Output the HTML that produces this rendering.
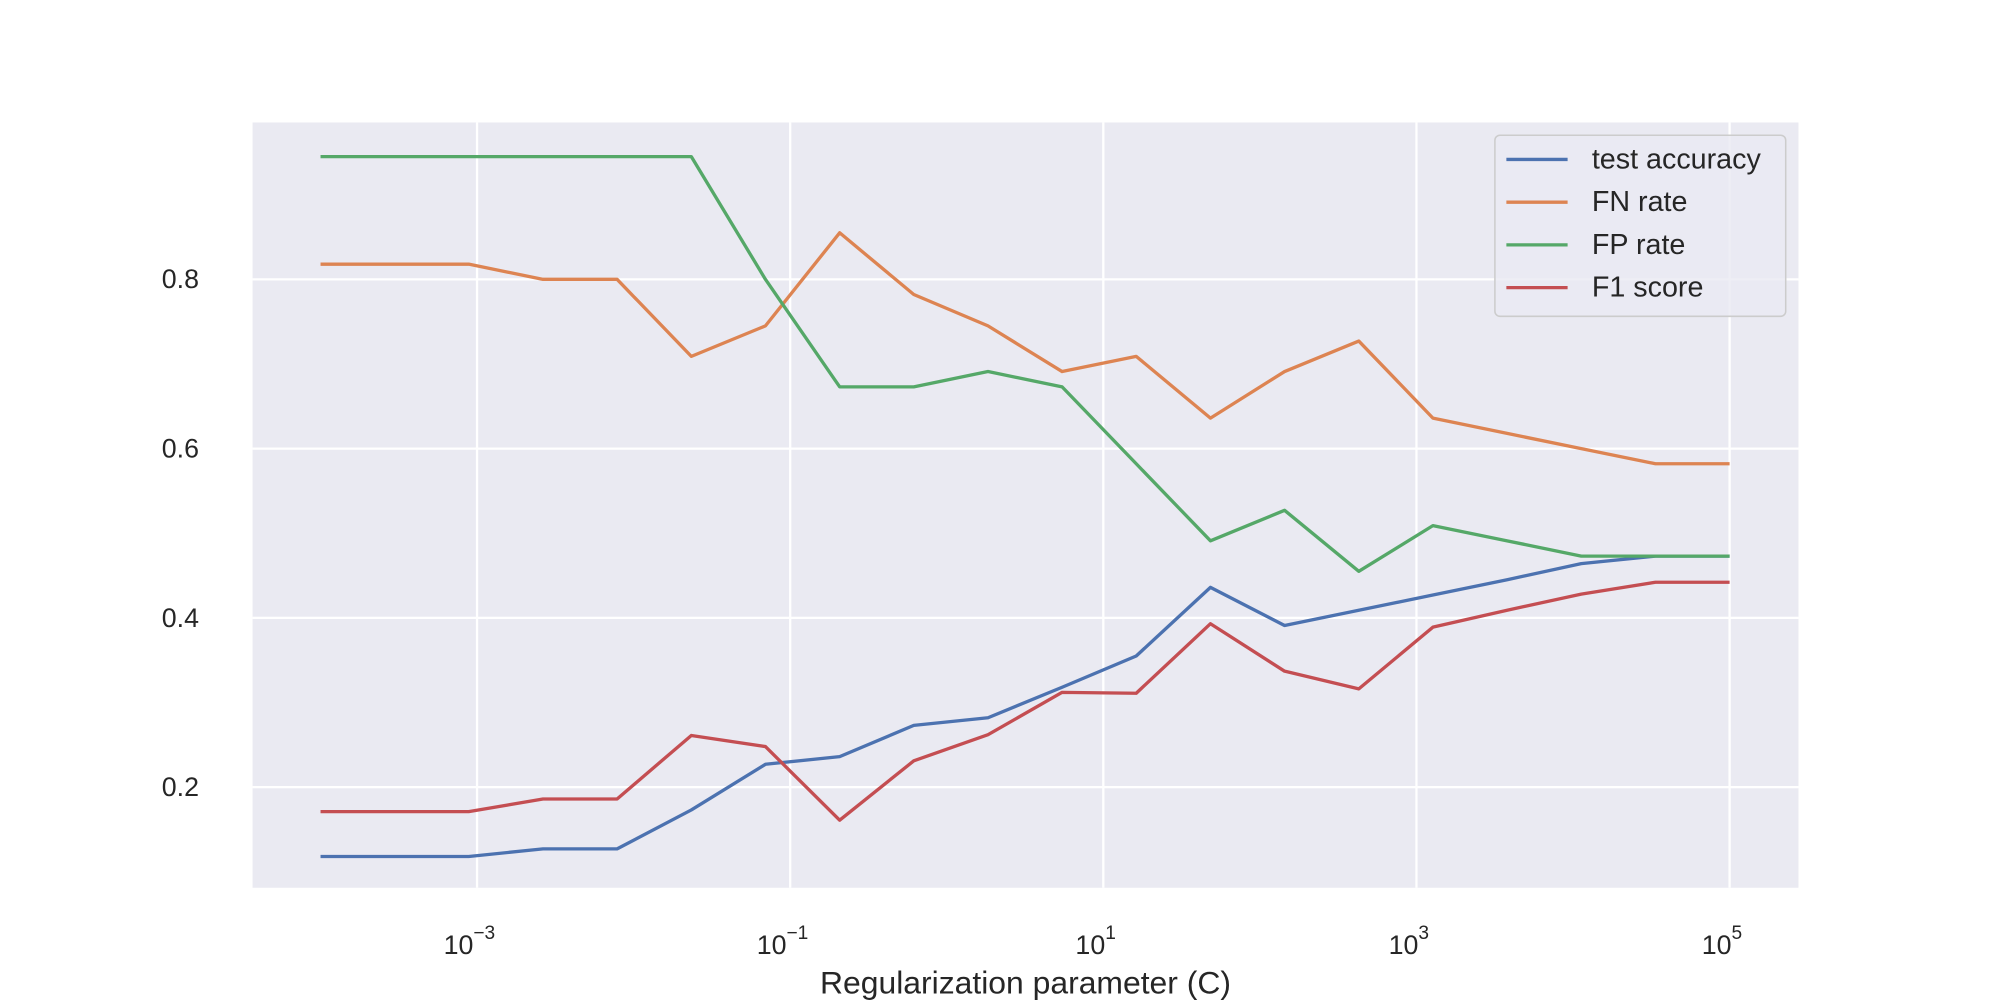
<!DOCTYPE html>
<html><head><meta charset="utf-8"><style>
html,body{margin:0;padding:0;background:#fff;}
svg{display:block;font-family:"Liberation Sans","DejaVu Sans",sans-serif;}
</style></head><body>
<svg id="chart" width="2000" height="1000" viewBox="0 0 1568 784" xmlns="http://www.w3.org/2000/svg">
<rect x="198" y="96" width="1212" height="600" fill="#eaeaf2"/>
<g id="grid"></g>
<g id="series"></g>
<g id="ticks"></g>
<text x="804" y="779" font-size="25" text-anchor="middle" fill="#262626">Regularization parameter (C)</text>
<g id="legend"></g>
</svg>
<script>
const logC = [];
const nPts = 20;
const logStart = -4, logEnd = 5;
const accuracy = [0.118,0.118,0.118,0.127,0.127,0.173,0.227,0.236,0.273,0.282,0.318,0.355,0.436,0.391,0.409,0.427,0.445,0.464,0.473,0.473];
const fnRate = [0.818,0.818,0.818,0.800,0.800,0.709,0.745,0.855,0.782,0.745,0.691,0.709,0.636,0.691,0.727,0.636,0.618,0.600,0.582,0.582];
const fpRate = [0.945,0.945,0.945,0.945,0.945,0.945,0.800,0.673,0.673,0.691,0.673,0.582,0.491,0.527,0.455,0.509,0.491,0.473,0.473,0.473];
const f1 = [0.171,0.171,0.171,0.186,0.186,0.261,0.248,0.161,0.231,0.262,0.312,0.311,0.393,0.337,0.316,0.389,0.409,0.428,0.442,0.442];
const yTicks = [0.2,0.4,0.6,0.8];
const yTickLabels = ["0.2","0.4","0.6","0.8"];
const xTickExps = [-3,-1,1,3,5];
const seriesNames = ["test accuracy","FN rate","FP rate","F1 score"];
const seriesColors = ["#4c72b0","#dd8452","#55a868","#c44e52"];
for (let i=0;i<nPts;i++) logC.push(logStart + (logEnd-logStart)*i/(nPts-1));

const NS="http://www.w3.org/2000/svg";
function X(l){ return 374 + (l+3)*122.75; }
function Y(v){ return 219 + (0.8-v)*663.5; }
function mk(tag, attrs, parent){ const e=document.createElementNS(NS,tag); for(const k in attrs) e.setAttribute(k,attrs[k]); parent.appendChild(e); return e; }

const grid=document.getElementById('grid'), ticks=document.getElementById('ticks'), ser=document.getElementById('series'), leg=document.getElementById('legend');
yTicks.forEach((v,i)=>{
  const l=mk('line',{x1:198,x2:1410,y1:Y(v),y2:Y(v),stroke:'#fff','stroke-width':1.8},grid);
  
  
  const t=mk('text',{x:156,y:Y(v)+7,'font-size':21,'text-anchor':'end',fill:'#262626'},ticks);
  t.textContent=yTickLabels[i];
  
  
});
xTickExps.forEach(e=>{
  const l=mk('line',{x1:X(e),x2:X(e),y1:96,y2:696,stroke:'#fff','stroke-width':1.8},grid);
  
  
  const t=mk('text',{x:X(e)-6,y:748,'font-size':21,'text-anchor':'middle',fill:'#262626'},ticks);
  
  
  t.textContent='10';
  const s=mk('tspan',{dy:-12,'font-size':15},t);
  s.textContent=String(e).replace('-','\u2212');
});
[accuracy,fnRate,fpRate,f1].forEach((arr,si)=>{
  const pts=arr.map((v,i)=>X(logC[i]).toFixed(1)+','+Y(v).toFixed(1)).join(' ');
  const p=mk('polyline',{points:pts,fill:'none',stroke:seriesColors[si],'stroke-width':2.6,'stroke-linejoin':'round'},ser);
  
  
});
const box=mk('rect',{x:1172,y:106,width:228,height:142,rx:4,fill:'#eaeaf2','fill-opacity':0.8,stroke:'#ccc','stroke-width':1.2},leg);


seriesNames.forEach((n,i)=>{
  const y=125+i*33.5;
  const g=mk('g',{},leg);
  
  
  mk('line',{x1:1181,x2:1229,y1:y,y2:y,stroke:seriesColors[i],'stroke-width':2.6},g);
  const t=mk('text',{x:1248,y:y+7,'font-size':22.5,fill:'#262626'},g);
  t.textContent=n;
});
</script>
</body></html>
